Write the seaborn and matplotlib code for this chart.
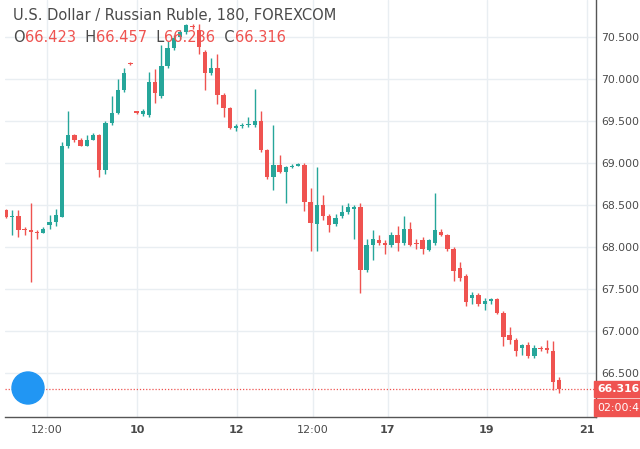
import matplotlib
matplotlib.use("Agg")
import matplotlib.pyplot as plt
from matplotlib.patches import Ellipse
import seaborn as sns
import numpy as np

opens = [68.44,68.36,68.37,68.22,68.20,68.18,68.17,68.26,68.30,68.36,69.20,69.33,69.28,69.20,69.28,69.33,68.92,69.48,69.60,69.87,70.19,69.61,69.58,69.57,69.96,69.80,70.15,70.37,70.50,70.56,70.63,70.58,70.32,70.07,70.13,69.81,69.65,69.42,69.44,69.45,69.45,69.50,69.15,68.83,68.98,68.90,68.95,68.97,68.98,68.54,68.27,68.50,68.37,68.27,68.37,68.42,68.46,68.48,67.73,68.02,68.08,68.05,68.02,68.15,68.05,68.22,68.05,68.08,67.97,68.05,68.18,68.15,67.98,67.75,67.66,67.40,67.43,67.33,67.36,67.38,67.22,66.95,66.90,66.80,66.84,66.70,66.80,66.80,66.77,66.42]
closes = [68.36,68.37,68.20,68.20,68.18,68.17,68.22,68.30,68.38,69.20,69.33,69.28,69.20,69.28,69.33,68.92,69.48,69.60,69.87,70.07,70.18,69.60,69.62,69.96,69.83,70.15,70.37,70.49,70.56,70.64,70.62,70.38,70.07,70.13,69.81,69.65,69.42,69.44,69.45,69.46,69.50,69.15,68.83,68.98,68.90,68.95,68.97,68.98,68.54,68.29,68.50,68.37,68.26,68.35,68.42,68.48,68.48,67.73,68.02,68.10,68.05,68.02,68.15,68.05,68.22,68.03,68.04,67.98,68.08,68.20,68.15,67.98,67.72,67.63,67.35,67.43,67.33,67.36,67.38,67.22,66.93,66.90,66.77,66.84,66.70,66.80,66.79,66.78,66.40,66.316]
highs = [68.46,68.44,68.44,68.24,68.53,68.20,68.24,68.38,68.45,69.25,69.62,69.35,69.30,69.33,69.36,69.35,69.50,69.80,70.00,70.13,70.20,69.62,69.64,70.08,70.12,70.40,70.45,70.52,70.58,70.66,70.65,70.65,70.34,70.25,70.30,69.83,69.67,69.46,69.48,69.55,69.88,69.62,69.17,69.45,69.10,68.97,68.99,69.00,69.00,68.70,68.95,68.62,68.40,68.40,68.50,68.52,68.50,68.52,68.10,68.20,68.15,68.08,68.18,68.25,68.37,68.30,68.10,68.12,68.10,68.65,68.22,68.16,68.00,67.82,67.68,67.47,67.46,67.40,67.39,67.40,67.24,67.05,66.92,66.85,66.87,66.84,66.82,66.90,66.88,66.45]
lows = [68.35,68.15,68.12,68.15,67.58,68.10,68.17,68.22,68.25,68.36,69.18,69.25,69.20,69.20,69.28,68.83,68.87,69.45,69.58,69.85,70.17,69.58,69.56,69.55,69.72,69.78,70.13,70.35,70.48,70.54,70.60,70.30,69.87,70.05,69.70,69.55,69.40,69.38,69.42,69.43,69.43,69.13,68.81,68.68,68.88,68.52,68.94,68.96,68.43,67.95,67.95,68.32,68.18,68.25,68.35,68.40,68.10,67.45,67.70,67.85,68.03,67.92,68.00,67.95,68.03,68.01,67.98,67.92,67.96,68.03,68.13,67.96,67.60,67.60,67.30,67.32,67.30,67.25,67.33,67.20,66.82,66.85,66.70,66.72,66.68,66.68,66.76,66.74,66.30,66.26]

tick_pos = [6.6, 21.1, 37.1, 49.4, 61.4, 77.3, 93.4]
tick_labels = ["12:00", "10", "12", "12:00", "17", "19", "21"]
bold_ticks = ["10", "12", "17", "19", "21"]
yticks = [66.5, 67.0, 67.5, 68.0, 68.5, 69.0, 69.5, 70.0, 70.5]

sns.set_theme(style="white")
plt.rcParams['font.family'] = ['DejaVu Sans']
GREEN, RED = "#26a69a", "#ef5350"

fig = plt.figure(figsize=(6.4, 4.49), dpi=100)
ax = fig.add_axes([5/640, 1-417/449, 591/640, 417/449])

o = np.array(opens); c = np.array(closes)
idx = np.arange(len(o))
cols = [GREEN if cc >= oo else RED for oo, cc in zip(o, c)]
ax.vlines(idx, lows, highs, colors=cols, linewidth=1, zorder=2)
h = np.abs(c - o); h = np.where(h < 0.015, 0.015, h)
ax.bar(idx, h, bottom=np.minimum(o, c), width=0.7, color=cols, zorder=3, linewidth=0)

ax.set_xlim(-0.16, 94.9)
ax.set_ylim(65.98, 70.94)
ax.set_xticks(tick_pos)
ax.set_xticklabels(tick_labels)
for t in ax.get_xticklabels():
    t.set_color("#4a4a4a"); t.set_fontsize(8)
    if t.get_text() in bold_ticks:
        t.set_fontweight("bold")
ax.set_yticks(yticks)
ax.set_yticklabels([f"{v:.3f}" for v in yticks])
ax.yaxis.tick_right()
ax.tick_params(axis="y", labelsize=7.8, labelcolor="#4a4a4a", length=0, pad=4)
ax.tick_params(axis="x", length=0, pad=6)
ax.grid(True, color="#e9eef2", linewidth=1)
for s in ["top", "left"]:
    ax.spines[s].set_visible(False)
for s in ["right", "bottom"]:
    ax.spines[s].set_color("#555555"); ax.spines[s].set_linewidth(1)

last = closes[-1]
yf = (last - 65.98) / (70.94 - 65.98)
ax.axhline(last, color=RED, linestyle=(0, (1, 1.5)), linewidth=0.9, zorder=1)
ax.text(1.002, yf, f"{last:.3f}", transform=ax.transAxes,
        ha="left", va="center", fontsize=7.8, color="white", fontweight="bold",
        bbox=dict(boxstyle="square,pad=0.3", fc=RED, ec=RED), clip_on=False)
ax.text(1.002, yf - 0.045, "02:00:41", transform=ax.transAxes,
        ha="left", va="center", fontsize=7.8, color="white",
        bbox=dict(boxstyle="square,pad=0.3", fc=RED, ec=RED), clip_on=False)

fig.text(13/640, 1-15/449, "U.S. Dollar / Russian Ruble, 180, FOREXCOM", fontsize=10.5,
         color="#4a4a4a", va="center")
x0 = 13/640
parts = [("O", "#4a4a4a"), ("66.423", RED), ("  H", "#4a4a4a"), ("66.457", RED),
         ("  L", "#4a4a4a"), ("66.236", RED), ("  C", "#4a4a4a"), ("66.316", RED)]
r = fig.canvas.get_renderer()
xx = x0
for s, col in parts:
    t = fig.text(xx, 1-37/449, s, fontsize=10.5, color=col, va="center")
    bb = t.get_window_extent(renderer=r)
    xx += bb.width / 640

circ = Ellipse((28/640, 1-388/449), 32/640, 32/449, transform=fig.transFigure,
               color="#2196f3", zorder=5)
fig.patches.append(circ)

fig.savefig("out.png", dpi=100)
